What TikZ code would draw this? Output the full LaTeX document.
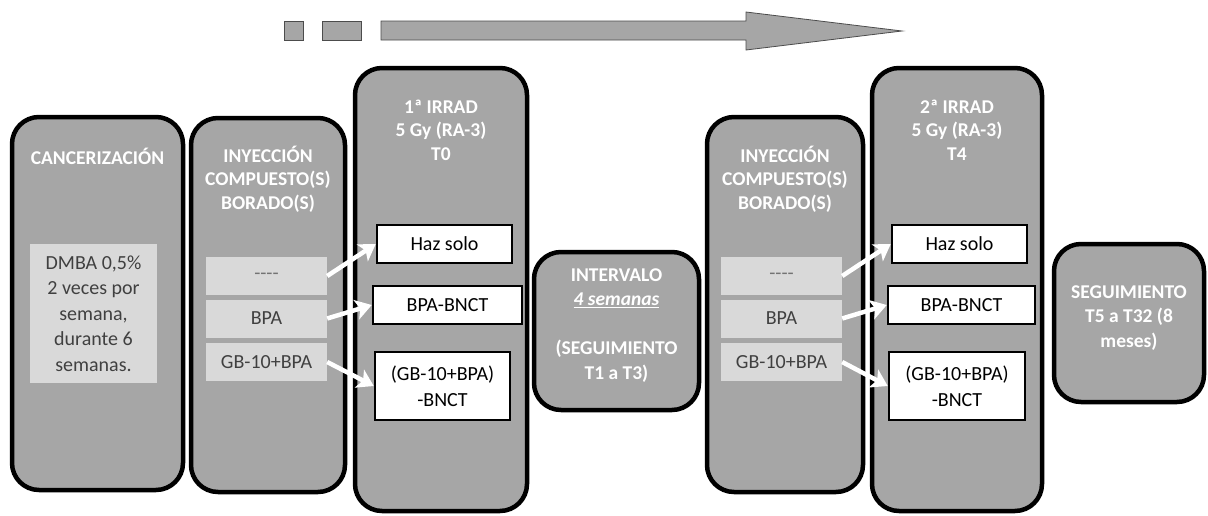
\documentclass[tikz,border=0pt]{standalone}
\usepackage{fontspec}
\setmainfont{Carlito}
\usetikzlibrary{arrows.meta}

\definecolor{boxgray}{RGB}{166,166,166}
\definecolor{rowgray}{RGB}{217,217,217}

\tikzset{
  phase/.style={draw=black, line width=4.5pt, fill=boxgray, rounded corners=27pt, inner sep=0pt},
  title/.style={text=white, font=\fontsize{19.5}{23.5}\selectfont\bfseries, align=center},
  row/.style={fill=rowgray, minimum width=121pt, minimum height=38pt, inner sep=0pt,
    font=\fontsize{20}{25.5}\selectfont, text=black!75},
  result/.style={draw=black, line width=2.5pt, fill=white, inner sep=0pt,
    font=\fontsize{20}{25.5}\selectfont, align=center},
  beam/.style={draw=white, line width=4.5pt, -{Stealth[length=16pt,width=20pt,inset=4pt]}},
  timeline/.style={draw=black!70, line width=0.8pt, fill=boxgray},
}

\begin{document}
\begin{tikzpicture}[x=1pt,y=-1pt]
    \useasboundingbox (0,0) rectangle (1208,515);

    % time arrow on top
    \draw[timeline] (284,21) rectangle (303,40);
    \draw[timeline] (322,21) rectangle (361,40);
    \draw[timeline] (381,21) -- (746,21) -- (746,12) -- (902,31) -- (746,50) -- (746,40) -- (381,40) -- cycle;

    % the phases
    \node[phase, minimum width=171pt, minimum height=373pt] (canc) at (97.5,303.5) {};
    \node[phase, minimum width=154pt, minimum height=374pt] (iny1) at (268,305) {};
    \node[phase, minimum width=172pt, minimum height=443pt] (irr1) at (441,289.5) {};
    \node[phase, minimum width=165pt, minimum height=158pt] (interv) at (616.5,331) {};
    \node[phase, minimum width=156pt, minimum height=375pt] (iny2) at (785,304.5) {};
    \node[phase, minimum width=170pt, minimum height=443pt] (irr2) at (957,289.5) {};
    \node[phase, minimum width=150pt, minimum height=158pt] (segui) at (1129,323) {};

    % titles
    \node[title] (canc-t) at (97.5,156) {CANCERIZACIÓN};
    \node[title] (iny1-t) at (268,179) {INYECCIÓN\\COMPUESTO(S)\\BORADO(S)};
    \node[title] (irr1-t) at (441,130) {1ª IRRAD\\5 Gy (RA-3)\\T0};
    \node[title, font=\fontsize{19.5}{24.5}\selectfont\bfseries] (interv-t) at (616.5,325.5)
        {INTERVALO\\\underline{\textit{4 semanas}}\\[24.5pt](SEGUIMIENTO\\T1 a T3)};
    \node[title] (iny2-t) at (785,179) {INYECCIÓN\\COMPUESTO(S)\\BORADO(S)};
    \node[title] (irr2-t) at (957,130) {2ª IRRAD\\5 Gy (RA-3)\\T4};
    \node[title, font=\fontsize{19.5}{24.5}\selectfont\bfseries] (segui-t) at (1129,318)
        {SEGUIMIENTO\\T5 a T32 (8\\meses)};

    % cancerization protocol
    \node[row, minimum width=127pt, minimum height=139pt, align=center] (dmba) at (93.5,313.5)
        {DMBA 0,5\%\\2 veces por\\semana,\\durante 6\\semanas.};

    % compounds, first injection
    \node[row, text=black!55] (none1) at (266.5,276) {-{}-{}-{}-};
    \node[row] (bpa1) at (266.5,318.5) {BPA};
    \node[row] (gb1) at (266.5,362) {GB-10+BPA};

    % compounds, second injection
    \node[row, text=black!55] (none2) at (781.5,276) {-{}-{}-{}-};
    \node[row] (bpa2) at (781.5,318.5) {BPA};
    \node[row] (gb2) at (781.5,362) {GB-10+BPA};

    % groups, first irradiation
    \node[result, minimum width=135pt, minimum height=38pt] (haz1) at (444.5,244) {Haz solo};
    \node[result, minimum width=149pt, minimum height=38pt] (bnct1) at (447.5,305) {BPA-BNCT};
    \node[result, minimum width=135pt, minimum height=68pt] (gbnct1) at (442.5,386) {(GB-10+BPA)\\-BNCT};

    % groups, second irradiation
    \node[result, minimum width=135pt, minimum height=38pt] (haz2) at (959.5,244) {Haz solo};
    \node[result, minimum width=147pt, minimum height=38pt] (bnct2) at (961.5,305) {BPA-BNCT};
    \node[result, minimum width=136pt, minimum height=68pt] (gbnct2) at (957,386) {(GB-10+BPA)\\-BNCT};

    % compound -> group
    \draw[beam] (none1.east) -- (haz1.west);
    \draw[beam] (bpa1.east) -- (bnct1.west);
    \draw[beam] (gb1.east) -- (gbnct1.west);
    \draw[beam] (none2.east) -- (haz2.west);
    \draw[beam] (bpa2.east) -- (bnct2.west);
    \draw[beam] (gb2.east) -- (gbnct2.west);
\end{tikzpicture}
\end{document}
